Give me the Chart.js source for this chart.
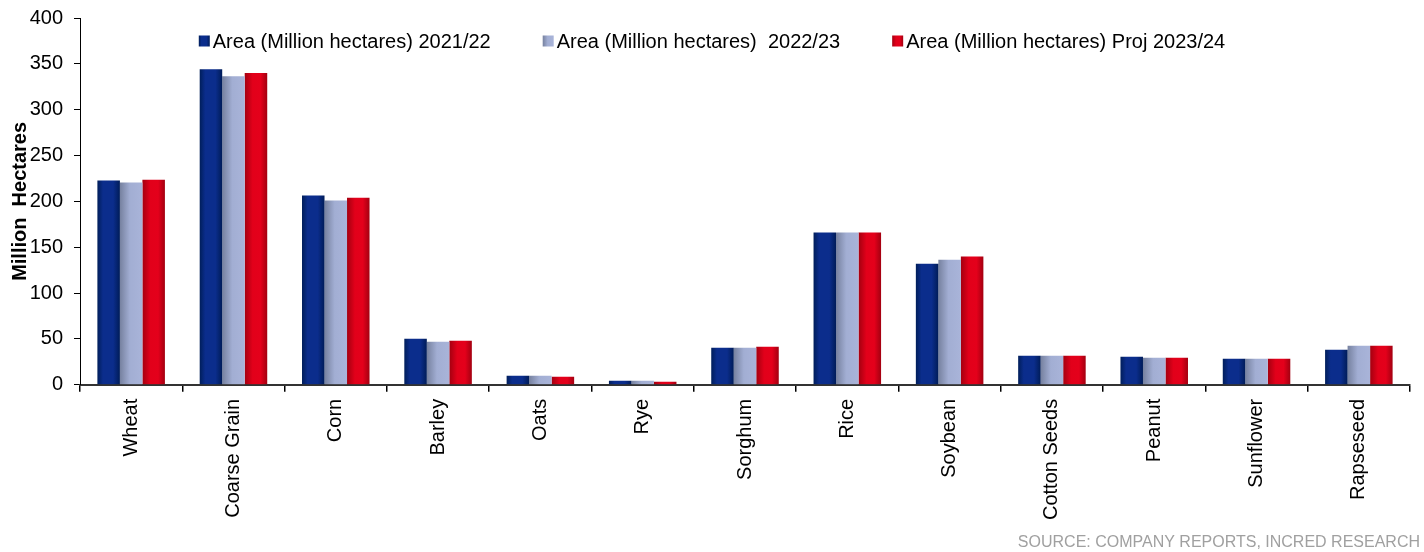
<!DOCTYPE html>
<html>
<head>
<meta charset="utf-8">
<script src="https://cdn.jsdelivr.net/npm/chart.js@4/dist/chart.umd.min.js"></script>
<style>
  html, body { margin: 0; padding: 0; background: #fff; }
  #wrap { position: relative; width: 1424px; height: 552px; }
</style>
</head>
<body>
<div id="wrap"><canvas id="areaChart" width="1424" height="552"></canvas></div>
<script>
const crops = ['Wheat', 'Coarse Grain', 'Corn', 'Barley', 'Oats', 'Rye', 'Sorghum', 'Rice', 'Soybean', 'Cotton Seeds', 'Peanut', 'Sunflower', 'Rapseseed'];

const seriesNames = [
    'Area (Million hectares) 2021/22',
    'Area (Million hectares)  2022/23',
    'Area (Million hectares) Proj 2023/24'
];

const area2122 = [222.7, 344.0, 206.5, 50.3, 9.8, 4.4, 40.4, 166.0, 132.0, 31.7, 30.6, 28.4, 38.3];
const area2223 = [220.5, 336.5, 201.0, 47.0, 9.8, 4.4, 40.4, 166.0, 136.5, 31.7, 29.5, 28.4, 42.6];
const area2324 = [223.7, 340.0, 204.0, 48.0, 8.7, 3.3, 41.5, 166.0, 140.0, 31.7, 29.5, 28.4, 42.6];

const yTicks = [0, 50, 100, 150, 200, 250, 300, 350, 400];

const FONT = '"Liberation Sans", Arial, sans-serif';

const baseColors = ['#0b2d8a', '#a3aed2', '#de0019'];
const gradientStops = [
    [[0, '#001e5a'], [0.25, '#0b2d8c'], [0.7, '#0b2d8c'], [1, '#001c58']],
    [[0, '#76819f'], [0.45, '#a2aed3'], [1, '#a9b4d9']],
    [[0, '#a40010'], [0.35, '#e2001a'], [0.7, '#e4001b'], [1, '#a30010']]
];

// shade each bar left-to-right like a cylinder
const barShading = {
    id: 'barShading',
    beforeDatasetsDraw(chart) {
        const ctx = chart.ctx;
        chart.data.datasets.forEach((ds, di) => {
            const meta = chart.getDatasetMeta(di);
            meta.data.forEach((bar) => {
                const half = bar.width / 2;
                const g = ctx.createLinearGradient(bar.x - half, 0, bar.x + half, 0);
                gradientStops[di].forEach(([p, c]) => g.addColorStop(p, c));
                bar.options.backgroundColor = g;
            });
        });
    }
};

// single-row legend sitting inside the plot, centred on the canvas
const innerLegend = {
    id: 'innerLegend',
    afterDraw(chart) {
        const ctx = chart.ctx;
        const box = 11, textGap = 3, itemGap = 52, y = 41;
        ctx.save();
        ctx.font = '20px ' + FONT;
        const widths = chart.data.datasets.map((ds) => ctx.measureText(ds.label).width);
        const total = widths.reduce((s, w) => s + box + textGap + w, 0) + itemGap * (widths.length - 1);
        let x = chart.width / 2 - total / 2;
        chart.data.datasets.forEach((ds, i) => {
            const g = ctx.createLinearGradient(x, 0, x + box, 0);
            gradientStops[i].forEach(([p, c]) => g.addColorStop(p, c));
            ctx.fillStyle = g;
            ctx.fillRect(x, y - box / 2, box, box);
            ctx.fillStyle = '#000';
            ctx.textBaseline = 'middle';
            ctx.textAlign = 'left';
            ctx.fillText(ds.label, x + box + textGap, y + 1);
            x += box + textGap + widths[i] + itemGap;
        });
        ctx.restore();
    }
};

const sourceNote = {
    id: 'sourceNote',
    afterDraw(chart) {
        const ctx = chart.ctx;
        ctx.save();
        ctx.font = '16px ' + FONT;
        ctx.fillStyle = '#a0a0a0';
        ctx.textAlign = 'right';
        ctx.textBaseline = 'middle';
        ctx.fillText('SOURCE: COMPANY REPORTS, INCRED RESEARCH', 1420, 543);
        ctx.restore();
    }
};

const values = [area2122, area2223, area2324];

new Chart(document.getElementById('areaChart'), {
    type: 'bar',
    data: {
        labels: crops,
        datasets: values.map((vals, i) => ({
            label: seriesNames[i],
            data: vals,
            backgroundColor: () => baseColors[i],
            borderWidth: 0,
            categoryPercentage: 0.66,
            barPercentage: 1
        }))
    },
    options: {
        responsive: false,
        animation: false,
        layout: { padding: { top: 0, right: 14, bottom: 25, left: 8 } },
        plugins: {
            legend: { display: false },
            tooltip: { enabled: false }
        },
        scales: {
            x: {
                grid: {
                    display: true,
                    offset: true,
                    drawOnChartArea: false,
                    tickLength: 7,
                    color: '#000',
                    lineWidth: 1.5
                },
                border: { display: true, color: '#333', width: 2 },
                ticks: {
                    color: '#000',
                    minRotation: 90,
                    maxRotation: 90,
                    padding: 7,
                    font: { family: FONT, size: 20 }
                }
            },
            y: {
                min: 0,
                max: 400,
                afterBuildTicks(axis) {
                    axis.ticks = yTicks.map((v) => ({ value: v }));
                },
                afterFit(axis) {
                    axis.width = 72;
                    axis.paddingTop = 18;
                },
                grid: {
                    display: true,
                    drawOnChartArea: false,
                    tickLength: 6,
                    color: '#000'
                },
                border: { display: true, color: '#000', width: 1 },
                ticks: {
                    color: '#000',
                    padding: 11,
                    font: { family: FONT, size: 20 }
                },
                title: {
                    display: true,
                    text: 'Million  Hectares',
                    color: '#000',
                    padding: { top: 0, bottom: 1 },
                    font: { family: FONT, size: 20, weight: 'bold' }
                }
            }
        }
    },
    plugins: [barShading, innerLegend, sourceNote]
});
</script>
</body>
</html>
